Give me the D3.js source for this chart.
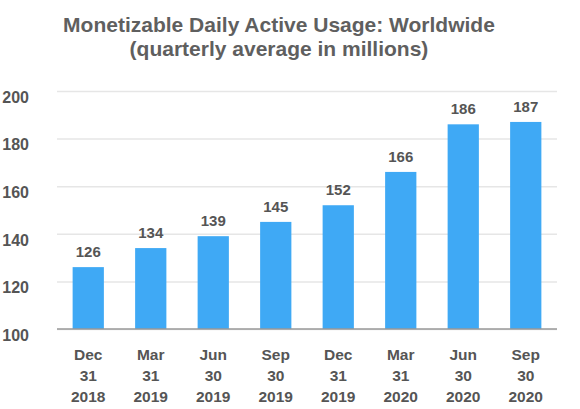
<!DOCTYPE html>
<html>
<head>
<meta charset="utf-8">
<script src="https://cdn.jsdelivr.net/npm/d3@7"></script>
<style>
  body { margin: 0; background: #fff; }
  text { font-family: "Liberation Sans", Arial, sans-serif; font-weight: bold; }
</style>
</head>
<body>
<svg id="chart" width="580" height="409"></svg>
<script>
let quarters = ['Dec 31 2018', 'Mar 31 2019', 'Jun 30 2019', 'Sep 30 2019', 'Dec 31 2019', 'Mar 31 2020', 'Jun 30 2020', 'Sep 30 2020']
let dau = [126, 134, 139, 145, 152, 166, 186, 187]
let yTicks = [100, 120, 140, 160, 180, 200]
let titleLines = ['Monetizable Daily Active Usage: Worldwide', '(quarterly average in millions)']

let width = 580
let height = 409
let margin = {top: 91, right: 23, bottom: 80, left: 57}

let svg = d3.select('#chart')

let x = d3.scaleBand()
  .domain(quarters)
  .range([margin.left, width - margin.right])
  .paddingInner(0.5)
  .paddingOuter(0.25)

let y = d3.scaleLinear()
  .domain([100, 200])
  .range([height - margin.bottom, margin.top])

// title
svg.append('g').selectAll('text')
  .data(titleLines)
  .enter().append('text')
  .attr('x', 279)
  .attr('y', (d, i) => 32 + i * 24)
  .attr('text-anchor', 'middle')
  .style('font-size', '21px')
  .style('fill', '#5f5f5f')
  .text(d => d)

// gridlines + y labels
let yAxis = svg.append('g')
  .attr('transform', 'translate(' + margin.left + ',0)')
  .call(d3.axisLeft(y).tickValues(yTicks).tickSize(-(width - margin.left - margin.right)).tickPadding(28))
yAxis.select('.domain').remove()
yAxis.selectAll('.tick line').attr('stroke', '#e6e6e6').attr('stroke-width', 1.5)
yAxis.selectAll('.tick text')
  .attr('dy', '0.7em')
  .style('font-size', '16px')
  .style('font-family', '"Liberation Sans", Arial, sans-serif')
  .style('font-weight', 'bold')
  .style('fill', '#555')

// bars
svg.append('g').selectAll('rect')
  .data(dau)
  .enter().append('rect')
  .attr('x', (d, i) => x(quarters[i]))
  .attr('y', d => y(d))
  .attr('width', x.bandwidth())
  .attr('height', d => y(100) - y(d))
  .attr('fill', '#3fa9f5')

// value labels
svg.append('g').selectAll('text')
  .data(dau)
  .enter().append('text')
  .attr('x', (d, i) => x(quarters[i]) + x.bandwidth() / 2)
  .attr('y', d => y(d) - 10)
  .attr('text-anchor', 'middle')
  .style('font-size', '15px')
  .style('fill', '#555')
  .text(d => d)

// baseline
svg.append('line')
  .attr('x1', margin.left)
  .attr('x2', width - margin.right)
  .attr('y1', y(100))
  .attr('y2', y(100))
  .attr('stroke', '#999')
  .attr('stroke-width', 1.5)

// x labels, three lines each
let xLabels = svg.append('g').selectAll('text')
  .data(quarters)
  .enter().append('text')
  .attr('text-anchor', 'middle')
  .style('font-size', '15.5px')
  .style('fill', '#555')
xLabels.selectAll('tspan')
  .data(d => d.split(' ').map(p => ({p: p, q: d})))
  .enter().append('tspan')
  .attr('x', d => x(d.q) + x.bandwidth() / 2)
  .attr('y', (d, i) => 360 + i * 21)
  .text(d => d.p)
</script>
</body>
</html>
